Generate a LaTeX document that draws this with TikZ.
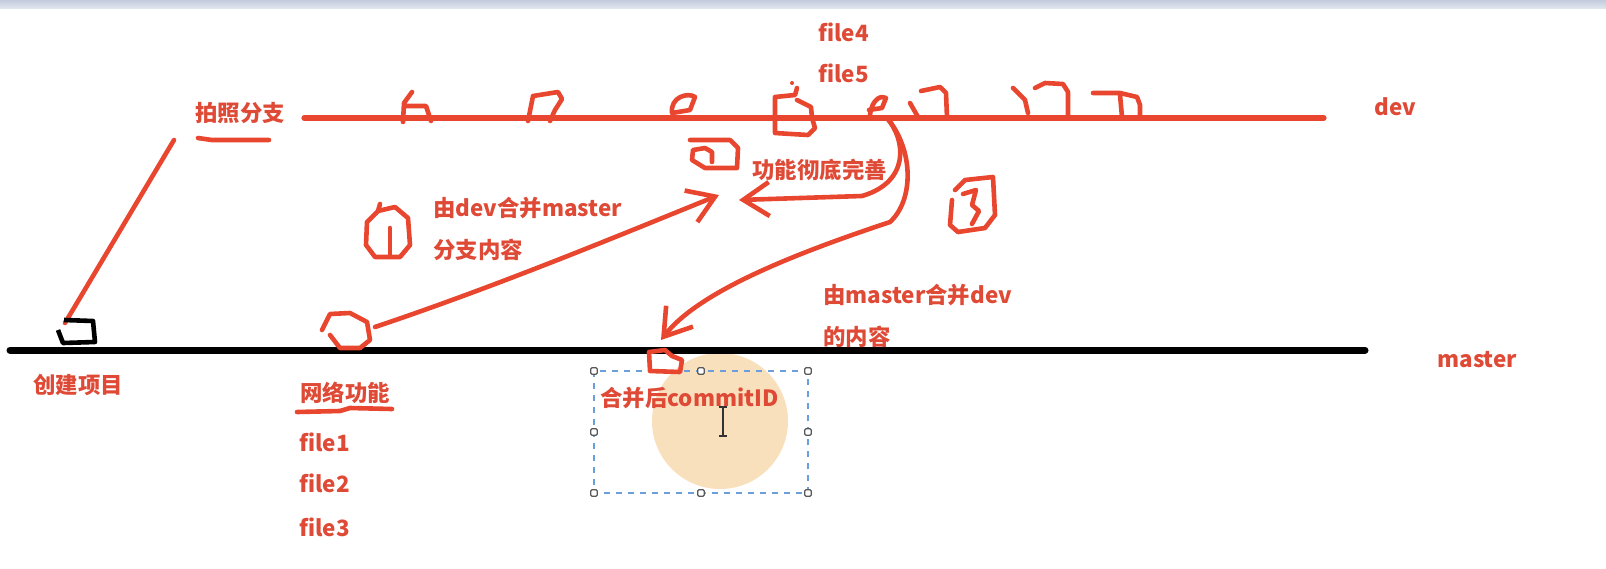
\documentclass[tikz,border=0pt]{standalone}
\usepackage{fontspec}
\setmainfont{Noto Sans CJK SC}
\usetikzlibrary{calc}
\usetikzlibrary{arrows.meta}

\definecolor{inkred}{HTML}{E8462F}
\definecolor{txtred}{HTML}{DF4A36}
\definecolor{peach}{HTML}{F9E0BD}
\definecolor{selblue}{HTML}{6A9FDB}
\definecolor{barblue}{HTML}{C3CCDD}

\begin{document}
\begin{tikzpicture}[x=0.5pt,y=-0.5pt,
  ink/.style={inkred, line width=2.3pt, line cap=round, line join=round},
  lbl/.style={txtred, font=\fontsize{11.2}{13}\selectfont\bfseries, inner sep=0, anchor=west},
  chev/.style={-{Straight Barb[length=13pt,width=17pt]}},
  handle/.style={draw=gray!70!black, fill=white, line width=0.6pt, rounded corners=0.6pt, minimum size=3.2pt, inner sep=0}]
\useasboundingbox (0,0) rectangle (1606,568);
\fill[top color=barblue, bottom color=barblue!50] (0,0) rectangle (1606,8);

% branch end points and commits
\coordinate (devL) at (304,118);
\coordinate (devR) at (1324,118);
\coordinate (mstL) at (10,350);
\coordinate (mstR) at (1365,350);
\coordinate (snap) at (174,140);
\coordinate (init) at (65,323);
\coordinate (net) at (375,327);
\coordinate (d5) at (887,118);
\coordinate (fwd) at (719,195);
\coordinate (back) at (739,200);
\coordinate (merged) at (661,340);

% selected text box
\fill[peach] (720,421) circle (68);
\draw[selblue, dashed, line width=0.6pt] (594,371) rectangle (808,493);
\foreach \x/\y [count=\i] in {594/371, 701/371, 808/371, 594/432, 808/432, 594/493, 701/493, 808/493}
  \node[handle] (h\i) at (\x,\y) {};
\draw[black!80, line width=0.7pt] (723,408) -- (723,435) (719,407) -- (727,407) (719,436) -- (727,436);

% branches
\draw[black, line width=3.5pt, line cap=round] (mstL) -- (mstR);
\draw[ink, line width=2.6pt] (devL) -- (devR);
\draw[ink] (snap) -- (init);

% commits on master
\draw[black, line width=2.3pt, line join=round] (64,320) -- (93,321) -- (95,342) -- (63,343) -- (58,330);
\draw[ink] (322,330) -- (330,314) -- (350,313) -- (367,322) -- (370,340) -- (360,348) -- (340,348) -- (330,335);
\draw[ink] (649,352) -- (650,371) -- (680,372) -- (682,360) -- (672,356) -- (665,350) -- cycle;

% commits on dev
\draw[ink] (412,92) -- (404,103) -- (403,122) (404,106) -- (426,106) -- (431,121);
\draw[ink] (533,96) -- (528,121) (533,96) -- (558,92) -- (562,99) -- (555,110) -- (550,121);
\draw[ink] (672,113) .. controls (670,97) and (688,92) .. (695,97) -- (690,110) -- cycle;
\draw[ink] (775,97) -- (775,133) -- (808,135) -- (815,128) -- (812,118) (775,97) -- (795,95) -- (797,88)
  (797,100) -- (811,107) -- (812,118);
\fill[inkred] (792,83) circle (2);
\draw[ink] (870,115) .. controls (872,98) and (882,95) .. (886,98) -- (882,108) -- (869,110);
\draw[ink] (910,103) -- (918,117) (921,91) -- (940,87) -- (946,93) -- (947,118);
\draw[ink] (1013,88) -- (1025,100) -- (1028,113) (1035,88) -- (1045,83) -- (1063,84) -- (1068,92) -- (1068,117);
\draw[ink] (1093,93) -- (1120,93) -- (1137,97) -- (1140,105) -- (1140,117) (1120,95) -- (1122,117);

% circled step numbers
\draw[ink] (380,204) -- (378,211) -- (395,207) -- (408,218) -- (410,245) -- (400,257) -- (375,257) -- (366,245) -- (367,222) -- (378,211);
\draw[ink] (390,228) -- (390,256);
\draw[ink] (690,140) -- (730,140) -- (738,148) -- (737,168) -- (705,168) -- (692,160) -- (693,150) -- (705,148) -- (712,152) -- (712,162);
\draw[ink] (955,190) -- (965,180) -- (993,177) -- (995,215) -- (985,228) -- (958,232) -- (950,225) -- (952,200);
\draw[ink] (963,194) -- (976,190) -- (972,205) -- (979,211) -- (972,224);

% underlines
\draw[ink] (198,138) -- (212,140) -- (269,140);
\draw[ink] (297,412) -- (340,411) -- (350,408) -- (392,409);

% merges
\draw[ink, chev] (net) .. controls (500,285) and (620,235) .. (fwd);
\draw[ink, chev] (d5) .. controls (906,140) and (910,182) .. (862,196) -- (back);
\draw[ink, chev] (d5) .. controls (914,150) and (914,200) .. (890,222) .. controls (800,252) and (700,290) .. (merged);

% labels
\node[lbl] (f4) at (818,32) {file4};
\node[lbl] (f5) at (818,73) {file5};
\node[lbl] (snaplbl) at (195,113) {拍照分支};
\node[lbl] (devlbl) at (1374,107) {dev};
\node[lbl] (done) at (752,170) {功能彻底完善};
\node[lbl] (m1a) at (433,208) {由dev合并master};
\node[lbl] (m1b) at (433,250) {分支内容};
\node[lbl] (m2a) at (823,295) {由master合并dev};
\node[lbl] (m2b) at (823,337) {的内容};
\node[lbl] (mstlbl) at (1437,360) {master};
\node[lbl] (initlbl) at (33,385) {创建项目};
\node[lbl] (netlbl) at (300,393) {网络功能};
\foreach \n/\y in {1/442, 2/483, 3/527}
  \node[lbl] (f\n) at (299,\y) {file\n};
\node[lbl] (cid) at (600,398) {合并后commitID};
\end{tikzpicture}
\end{document}
